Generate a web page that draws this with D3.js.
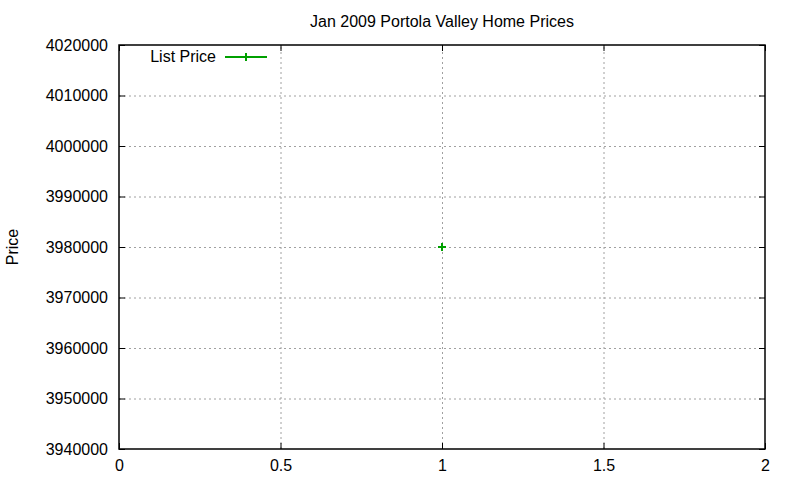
<!DOCTYPE html>
<html>
<head>
<meta charset="utf-8">
<script src="https://cdn.jsdelivr.net/npm/d3@7"></script>
<style>
  body { margin: 0; background: #fff; }
  svg { display: block; font-family: "Liberation Sans", Arial, sans-serif; }
  .grid line { stroke: #a0a0a0; stroke-dasharray: 2,3; }
  .grid path { display: none; }
</style>
</head>
<body>
<div id="chart"></div>
<script>
  // Data
  const xValues = [1];
  const prices = [3980000];
  const xTicks = [0, 0.5, 1, 1.5, 2];
  const yTicks = [3940000, 3950000, 3960000, 3970000, 3980000, 3990000, 4000000, 4010000, 4020000];
  const seriesName = 'List Price';

  const width = 800, height = 480;
  const margin = { top: 45, right: 35, bottom: 31, left: 119 };
  const chartW = width - margin.left - margin.right;
  const chartH = height - margin.top - margin.bottom;
  const green = '#00a000';

  const svg = d3.select('#chart').append('svg')
    .attr('width', width)
    .attr('height', height);

  const g = svg.append('g')
    .attr('transform', `translate(${margin.left},${margin.top})`);

  const x = d3.scaleLinear().domain([0, 2]).range([0, chartW]);
  const y = d3.scaleLinear().domain([3940000, 4020000]).range([chartH, 0]);

  // Grid (skip the ones on the border)
  g.append('g')
    .attr('class', 'grid')
    .call(d3.axisLeft(y).tickValues(yTicks.slice(1, -1)).tickSize(-chartW).tickFormat(''));
  g.append('g')
    .attr('class', 'grid')
    .attr('transform', `translate(0,${chartH})`)
    .call(d3.axisBottom(x).tickValues(xTicks.slice(1, -1)).tickSize(-chartH).tickFormat(''));

  // Axes: inward ticks, mirrored
  function styleAxis(sel) {
    sel.select('.domain').remove();
    sel.selectAll('line').attr('stroke', '#000');
    sel.selectAll('text').style('font-size', '16px').attr('fill', '#000');
  }

  g.append('g')
    .call(d3.axisLeft(y).tickValues(yTicks).tickSizeInner(-6).tickSizeOuter(0).tickPadding(11).tickFormat(d3.format('d')))
    .call(styleAxis);
  g.append('g')
    .attr('transform', `translate(${chartW},0)`)
    .call(d3.axisRight(y).tickValues(yTicks).tickSizeInner(-6).tickSizeOuter(0).tickFormat(''))
    .call(styleAxis);
  g.append('g')
    .attr('transform', `translate(0,${chartH})`)
    .call(d3.axisBottom(x).tickValues(xTicks).tickSizeInner(-6).tickSizeOuter(0).tickPadding(11).tickFormat(d3.format('')))
    .call(styleAxis);
  g.append('g')
    .call(d3.axisTop(x).tickValues(xTicks).tickSizeInner(-6).tickSizeOuter(0).tickFormat(''))
    .call(styleAxis);

  // Border
  g.append('rect')
    .attr('width', chartW).attr('height', chartH)
    .attr('fill', 'none').attr('stroke', '#000').attr('stroke-width', 1.5);

  // Points (plus markers)
  const pts = g.selectAll('.pt')
    .data(xValues.map((v, i) => ({ x: v, y: prices[i] })))
    .enter().append('g')
    .attr('class', 'pt')
    .attr('transform', d => `translate(${x(d.x)},${y(d.y)})`);
  pts.append('path')
    .attr('d', 'M-4,0H4M0,-4V4')
    .attr('stroke', green).attr('stroke-width', 2);

  // Title
  svg.append('text')
    .attr('x', margin.left + chartW / 2)
    .attr('y', 27)
    .attr('text-anchor', 'middle')
    .style('font-size', '16px')
    .text('Jan 2009 Portola Valley Home Prices');

  // Y label
  svg.append('text')
    .attr('transform', `translate(18,${margin.top + chartH / 2}) rotate(-90)`)
    .attr('text-anchor', 'middle')
    .style('font-size', '16px')
    .text('Price');

  // Legend
  const lg = svg.append('g').attr('transform', `translate(0,57)`);
  lg.append('text')
    .attr('x', 216).attr('y', 5)
    .attr('text-anchor', 'end')
    .style('font-size', '16px')
    .text(seriesName);
  lg.append('line')
    .attr('x1', 225).attr('x2', 267)
    .attr('stroke', green).attr('stroke-width', 2);
  lg.append('path')
    .attr('d', 'M242,0H250M246,-4V4')
    .attr('stroke', green).attr('stroke-width', 2);
</script>
</body>
</html>
